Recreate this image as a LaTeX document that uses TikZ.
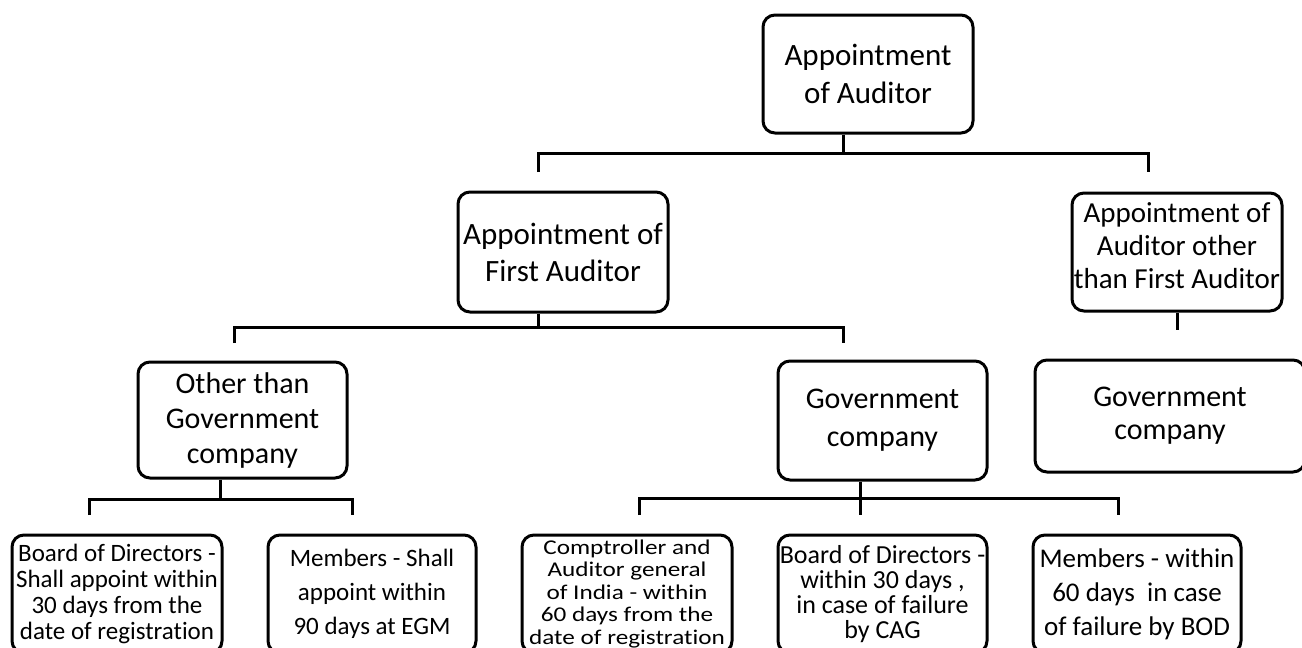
\documentclass[tikz,border=0pt]{standalone}
\usepackage{fontspec}
\setmainfont{Carlito}[Ligatures=NoCommon]
\newfontfamily\widefont{Carlito}[FakeStretch=1.2, Ligatures=NoCommon]
\newcommand{\fs}[2]{\fontsize{#1pt}{#2pt}\selectfont}
\begin{document}
\begin{tikzpicture}[x=0.5pt, y=-0.5pt,
  box/.style={draw, line width=1.5pt, rounded corners=6pt, align=center,
              inner sep=0pt, text=black},
  link/.style={line width=1.5pt},
  mid/.style={box, minimum width=105pt, minimum height=59pt},
  leaf/.style={box, minimum width=104.5pt, minimum height=59pt}]
\useasboundingbox (0,0) rectangle (1302,648);
\clip (0,0) rectangle (1302,648);

% level 0
\node[mid, font=\fs{15.5}{19}] (root) at (868,74) {Appointment\\of Auditor};

% level 1
\node[mid, minimum height=60pt, font=\fs{15.5}{18.5}] (first) at (563,252)
  {Appointment of\\First Auditor};
\node[mid, text depth=6pt, font=\fs{14.5}{16.5}] (later) at (1177,252)
  {Appointment of\\Auditor other\\than First Auditor};

% level 2
\node[mid, minimum width=104.5pt, minimum height=58pt, font=\fs{15}{17.5}] (ngov) at (242.5,420)
  {Other than\\Government\\company};
\node[mid, minimum width=104.5pt, minimum height=59.5pt, font=\fs{15}{19}] (gov) at (882.5,420.5)
  {Government\\company};
\node[mid, minimum width=135pt, minimum height=56pt, font=\fs{15}{16.5}] (gov2) at (1170,416)
  {Government\\company};

% level 3
\node[leaf, minimum width=105pt, font=\fs{12.5}{13}] (b1) at (117,594)
  {Board of Directors -\\Shall appoint within\\30 days from the\\date of registration};
\node[leaf, minimum width=104pt, font=\fs{12.5}{17}] (b2) at (372,594)
  {Members - Shall\\appoint within\\90 days at EGM};
\node[leaf, minimum width=105pt, font=\widefont\fs{10.5}{11.25}] (b3) at (627,594)
  {Comptroller and\\Auditor general\\of India - within\\60 days from the\\date of registration};
\node[leaf, font=\fs{13}{12.5}] (b4) at (882.5,594)
  {Board of Directors -\\within 30 days ,\\in case of failure\\by CAG};
\node[leaf, minimum width=104pt, font=\fs{13.5}{17}] (b5) at (1137,594)
  {Members - within\\60 days~ in case\\of failure by BOD};

% connector joints and open ends
\coordinate (j1) at (843,153);
\coordinate (e1a) at (538,172);
\coordinate (e1b) at (1148,172);
\coordinate (j2) at (538,327);
\coordinate (e2a) at (234,343);
\coordinate (e2b) at (843,343);
\coordinate (e3) at (1177,330);
\coordinate (j3) at (220,499);
\coordinate (e4a) at (89,515);
\coordinate (e4b) at (352,515);
\coordinate (j4) at (860,498);
\coordinate (e5a) at (639,515);
\coordinate (e5b) at (1118,515);
\coordinate (e5c) at (860,515);

\draw[link] (root.south -| j1) -- (j1);
\draw[link] (e1a) |- (j1) -| (e1b);

\draw[link] (first.south -| j2) -- (j2);
\draw[link] (e2a) |- (j2) -| (e2b);

\draw[link] (later.south) -- (e3);

\draw[link] (ngov.south -| j3) -- (j3);
\draw[link] (e4a) |- (j3) -| (e4b);

\draw[link] (gov.south -| j4) -- (e5c);
\draw[link] (e5a) |- (j4) -| (e5b);
\end{tikzpicture}
\end{document}
